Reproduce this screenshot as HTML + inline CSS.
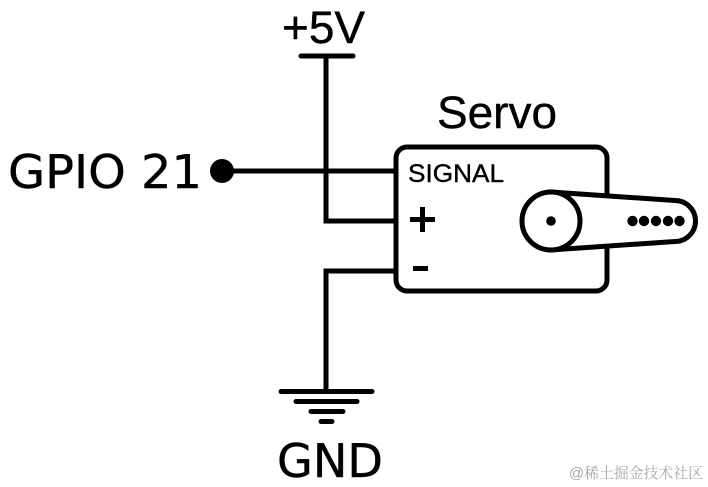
<!DOCTYPE html>
<html>
<head>
<meta charset="utf-8">
<style>
html,body{margin:0;padding:0;background:#fff;width:708px;height:487px;overflow:hidden}
svg{display:block}
</style>
</head>
<body>
<svg width="708" height="487" viewBox="0 0 708 487" xmlns="http://www.w3.org/2000/svg">
<rect width="708" height="487" fill="#fff"/>
<g fill="none" stroke="#000" stroke-width="5" stroke-linecap="round" stroke-linejoin="miter">
<path d="M301 56H353"/>
<path d="M326 56V221H396"/>
<path d="M222 171H396"/>
<path d="M396 271H326V391"/>
<path d="M281 391.500H372"/>
<path d="M296 401.500H357"/>
<path d="M311 411.500H343"/>
<path d="M321 421.500H332"/>
<rect x="396" y="147" width="211" height="144" rx="11" ry="11"/>
</g>
<circle cx="222" cy="171" r="12" fill="#000"/>
<path d="M551 192L675 200.500A20.500 20.500 0 0 1 675 241.500L551 250Z" fill="#fff" stroke="#000" stroke-width="5"/>
<circle cx="551" cy="221" r="29" fill="#fff" stroke="#000" stroke-width="5"/>
<g fill="#000">
<circle cx="551" cy="221" r="4.800"/>
<circle cx="632.500" cy="221" r="5.200"/>
<circle cx="644" cy="221" r="5.200"/>
<circle cx="656" cy="221" r="5.200"/>
<circle cx="668" cy="221" r="5.200"/>
<circle cx="679.500" cy="221" r="5.200"/>
<rect x="410" y="217" width="25" height="5"/>
<rect x="420" y="207" width="5" height="25"/>
<rect x="413" y="266" width="15" height="5"/>
</g>
<g fill="#000" stroke="#000" stroke-width="0.4">
<text x="282" y="43" font-family="'Liberation Sans',sans-serif" font-size="45" textLength="83" lengthAdjust="spacingAndGlyphs">+5V</text>
<text x="437" y="128" font-family="'Liberation Sans',sans-serif" font-size="45" textLength="120" lengthAdjust="spacingAndGlyphs">Servo</text>
<text x="408" y="182" font-family="'Liberation Sans',sans-serif" font-size="25" textLength="96" lengthAdjust="spacingAndGlyphs">SIGNAL</text>
<text x="8" y="188" font-family="'DejaVu Sans',sans-serif" font-size="46" textLength="194" lengthAdjust="spacingAndGlyphs">GPIO 21</text>
<text x="277" y="477" font-family="'DejaVu Sans',sans-serif" font-size="46" textLength="106" lengthAdjust="spacingAndGlyphs">GND</text>
</g>
<text x="569" y="478" fill="#a8a8a8" font-family="'Liberation Sans','Noto Serif CJK SC',serif" font-size="15" textLength="134" lengthAdjust="spacingAndGlyphs">@稀土掘金技术社区</text>
</svg>
</body>
</html>
